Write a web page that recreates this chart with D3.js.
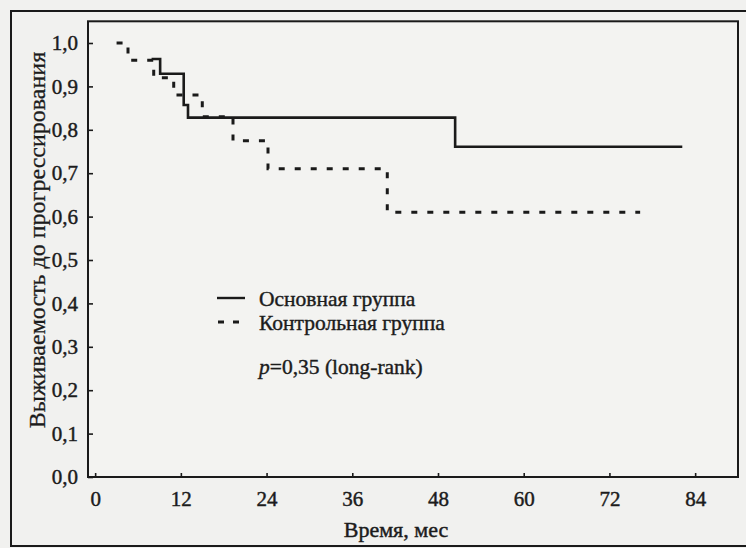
<!DOCTYPE html>
<html><head><meta charset="utf-8">
<script src="https://cdn.jsdelivr.net/npm/d3@7"></script>
<style>
html,body{margin:0;padding:0;background:#f1f1ef;}
svg{display:block;}
text{font-family:"Liberation Serif","Times New Roman",serif;fill:#1c1c1c;}
</style></head>
<body>
<script>
// ---- data ----
const xTickValues = [0, 12, 24, 36, 48, 60, 72, 84];
const yTickValues = [0, 0.1, 0.2, 0.3, 0.4, 0.5, 0.6, 0.7, 0.8, 0.9, 1.0];
const mainTimes = [7.9, 9.1, 12.4, 13.0, 50.4, 82.2];
const mainSurvival = [0.963, 0.929, 0.857, 0.828, 0.761, 0.761];
const controlTimes = [3.0, 4.6, 8.2, 11.0, 15.0, 19.3, 24.2, 40.9, 76.3];
const controlSurvival = [1.0, 0.96, 0.92, 0.88, 0.83, 0.775, 0.71, 0.61, 0.61];
const legendLabels = ["Основная группа", "Контрольная группа"];
const xTitle = "Время, мес";
const yTitle = "Выживаемость до прогрессирования";

const W = 746, H = 548;
const svg = d3.select("body").append("svg").attr("width", W).attr("height", H);

// outer frame
svg.append("rect").attr("x", 11).attr("y", 11).attr("width", 760).attr("height", 535)
  .attr("fill", "#f1f1ef").attr("stroke", "#1a1a1a").attr("stroke-width", 2);

const x = d3.scaleLinear().domain([-1, 90]).range([88, 738]);
const y = d3.scaleLinear().domain([0, 1]).range([477, 43]);

// plot frame
svg.append("rect").attr("x", x(-1)).attr("y", y(1.05)).attr("width", x(90) - x(-1))
  .attr("height", y(0) - y(1.05)).attr("fill", "#f3f3f1").attr("stroke", "#1a1a1a").attr("stroke-width", 2);

const fmt = v => d3.format(".1f")(v).replace(".", ",");

// y axis (ticks inward)
const yAxis = d3.axisLeft(y).tickValues(yTickValues).tickFormat(fmt).tickSizeInner(-5).tickSizeOuter(0).tickPadding(10);
const gy = svg.append("g").attr("transform", `translate(${x(-1)},0)`).call(yAxis);
gy.select(".domain").remove();
gy.selectAll("line").attr("stroke", "#1a1a1a").attr("stroke-width", 1.6);
gy.selectAll("text").style("font-size", "21px").attr("fill", "#1c1c1c")
  .attr("stroke", "#1c1c1c").attr("stroke-width", 0.45);

// x axis
const xAxis = d3.axisBottom(x).tickValues(xTickValues).tickFormat(d3.format("d")).tickSizeInner(-4).tickSizeOuter(0).tickPadding(14);
const gx = svg.append("g").attr("transform", `translate(0,${y(0)})`).call(xAxis);
gx.select(".domain").remove();
gx.selectAll("line").attr("stroke", "#1a1a1a").attr("stroke-width", 1.6);
gx.selectAll("text").style("font-size", "21px").attr("fill", "#1c1c1c")
  .attr("stroke", "#1c1c1c").attr("stroke-width", 0.45);

// titles
svg.append("text").attr("x", 396).attr("y", 537).attr("text-anchor", "middle")
  .style("font-size", "22px").attr("stroke", "#1c1c1c").attr("stroke-width", 0.45).text(xTitle);
svg.append("text").attr("transform", "translate(45,240) rotate(-90)").attr("text-anchor", "middle")
  .style("font-size", "24px").attr("stroke", "#1c1c1c").attr("stroke-width", 0.3).text(yTitle);

// curves
const line = d3.line().x(d => x(d[0])).y(d => y(d[1])).curve(d3.curveStepAfter);
const mainData = d3.zip(mainTimes, mainSurvival);
const ctrlData = d3.zip(controlTimes, controlSurvival);

svg.append("path").datum(ctrlData).attr("d", line).attr("fill", "none")
  .attr("stroke", "#1a1a1a").attr("stroke-width", 3).attr("stroke-dasharray", "6,10");
svg.append("path").datum(mainData).attr("d", line).attr("fill", "none")
  .attr("stroke", "#1a1a1a").attr("stroke-width", 2.6);

// legend
const lg = svg.append("g");
lg.append("line").attr("x1", 217).attr("x2", 245).attr("y1", 298).attr("y2", 298)
  .attr("stroke", "#1a1a1a").attr("stroke-width", 2.4);
lg.append("line").attr("x1", 218).attr("x2", 240).attr("y1", 322).attr("y2", 322)
  .attr("stroke", "#1a1a1a").attr("stroke-width", 3).attr("stroke-dasharray", "6,9");
legendLabels.forEach((t, i) => {
  lg.append("text").attr("x", 259).attr("y", 306 + i * 24).style("font-size", "21.5px")
    .attr("stroke", "#1c1c1c").attr("stroke-width", 0.4).text(t);
});
const pt = lg.append("text").attr("x", 259).attr("y", 374).style("font-size", "21.5px")
  .attr("stroke", "#1c1c1c").attr("stroke-width", 0.4);
pt.append("tspan").attr("font-style", "italic").text("p");
pt.append("tspan").text("=0,35 (long-rank)");
</script>
</body></html>
